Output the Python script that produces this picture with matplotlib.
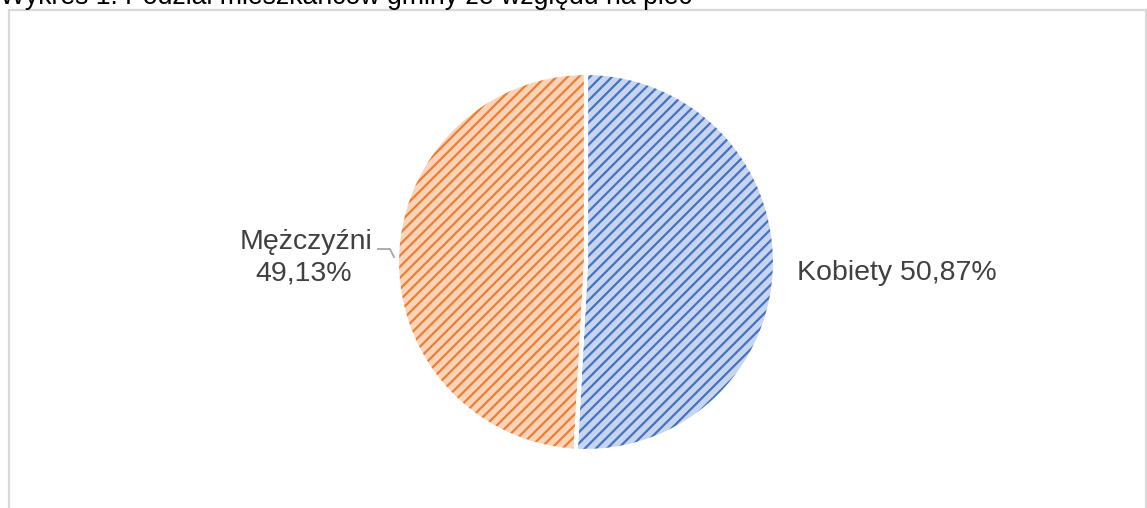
import matplotlib
matplotlib.use("Agg")
import matplotlib.pyplot as plt
from matplotlib.patches import Rectangle

# Data
categories = ["Kobiety", "Mężczyźni"]
shares = [50.87, 49.13]
title = "Wykres 1. Podział mieszkańców gminy ze względu na płeć"

fill_colors = ["#C8D5EF", "#FAD4B9"]
hatch_colors = ["#4472C4", "#ED7D31"]

plt.rcParams["font.family"] = ["Liberation Sans", "DejaVu Sans"]
plt.rcParams["hatch.linewidth"] = 1.6

W, H = 1147, 508
fig = plt.figure(figsize=(W / 100, H / 100), dpi=100)

# outer chart frame (bottom edge runs off the picture)
fig.patches.append(Rectangle((9 / W, -0.05), (1146 - 9) / W, 1.05 - 10 / H,
                             transform=fig.transFigure, fill=False,
                             edgecolor="#D9D9D9", linewidth=1.6))

# title, cropped at the top edge like the reference
fig.text(0, 1 - 4 / H, title, fontsize=19.2, color="#000000", va="baseline", ha="left")

# pie axes: center (586, 262) px, radius 189 px
cx, cy, r = 586, 262, 189
ax = fig.add_axes([(cx - r) / W, (H - cy - r) / H, 2 * r / W, 2 * r / H])
wedges, _ = ax.pie(shares, startangle=90, counterclock=False, colors=fill_colors,
                   wedgeprops=dict(linewidth=0))
for w, hc in zip(wedges, hatch_colors):
    w.set_edgecolor(hc)
    w.set_hatch("///")
# white separators on top
sep, _ = ax.pie(shares, startangle=90, counterclock=False,
                wedgeprops=dict(fill=False, edgecolor="white", linewidth=3))
ax.set_xlim(-1, 1)
ax.set_ylim(-1, 1)
ax.set_aspect("equal")


def px(x, y):
    return (x - cx) / r, (cy - y) / r


def fmt(v):
    return f"{v:.2f}".replace(".", ",") + "%"


label_color = "#404040"
kx, ky = px(797, 280)
ax.text(kx, ky, f"{categories[0]} {fmt(shares[0])}", fontsize=20.5, color=label_color,
        ha="left", va="baseline", clip_on=False)
mx, my = px(306, 249)
ax.text(mx, my, categories[1], fontsize=20.5, color=label_color,
        ha="center", va="baseline", clip_on=False)
mx2, my2 = px(304, 281)
ax.text(mx2, my2, fmt(shares[1]), fontsize=20.5, color=label_color,
        ha="center", va="baseline", clip_on=False)

# leader line for the left label
lx, ly = zip(px(378, 249), px(390, 249), px(394, 257))
ax.plot(lx, ly, color="#A6A6A6", linewidth=1.3, clip_on=False)

fig.savefig("out.png", dpi=100)
